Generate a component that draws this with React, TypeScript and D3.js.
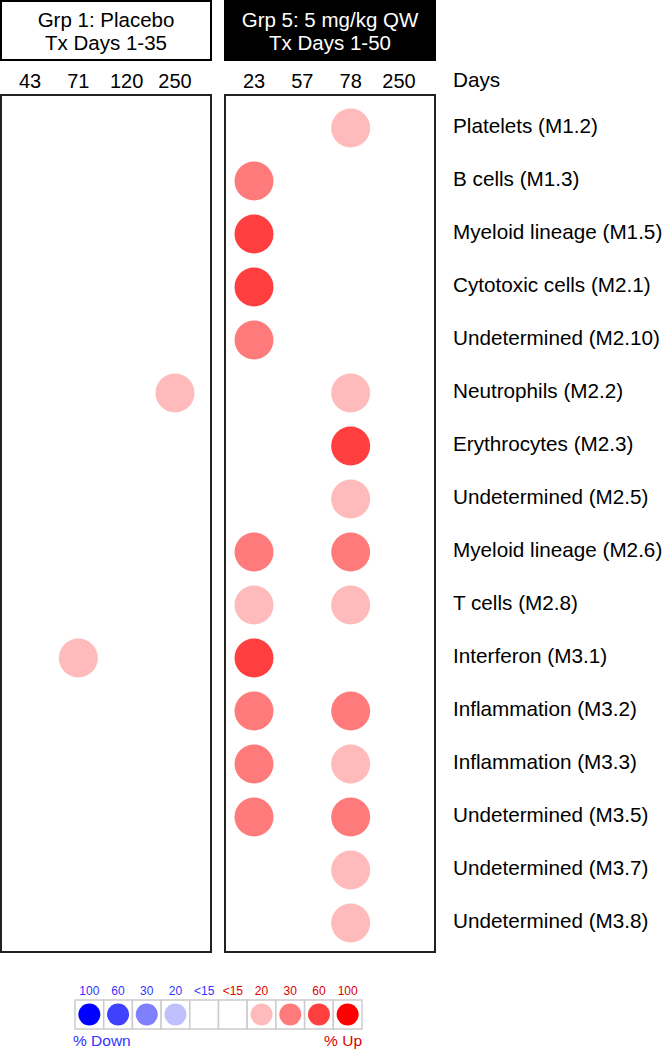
import React, { useEffect, useRef } from 'react';
import * as d3 from 'd3';

const modules = [
  'Platelets (M1.2)', 'B cells (M1.3)', 'Myeloid lineage (M1.5)', 'Cytotoxic cells (M2.1)',
  'Undetermined (M2.10)', 'Neutrophils (M2.2)', 'Erythrocytes (M2.3)', 'Undetermined (M2.5)',
  'Myeloid lineage (M2.6)', 'T cells (M2.8)', 'Interferon (M3.1)', 'Inflammation (M3.2)',
  'Inflammation (M3.3)', 'Undetermined (M3.5)', 'Undetermined (M3.7)', 'Undetermined (M3.8)',
];

const placeboDays = ['43', '71', '120', '250'];
const treatedDays = ['23', '57', '78', '250'];

// % up per module, one value per day column (0 = below threshold)
const placeboValues = [
  [0, 0, 0, 0], [0, 0, 0, 0], [0, 0, 0, 0], [0, 0, 0, 0],
  [0, 0, 0, 0], [0, 0, 0, 20], [0, 0, 0, 0], [0, 0, 0, 0],
  [0, 0, 0, 0], [0, 0, 0, 0], [0, 20, 0, 0], [0, 0, 0, 0],
  [0, 0, 0, 0], [0, 0, 0, 0], [0, 0, 0, 0], [0, 0, 0, 0],
];
const treatedValues = [
  [0, 0, 20, 0], [30, 0, 0, 0], [60, 0, 0, 0], [60, 0, 0, 0],
  [30, 0, 0, 0], [0, 0, 20, 0], [0, 0, 60, 0], [0, 0, 20, 0],
  [30, 0, 30, 0], [20, 0, 20, 0], [60, 0, 0, 0], [30, 0, 30, 0],
  [30, 0, 20, 0], [30, 0, 30, 0], [0, 0, 20, 0], [0, 0, 20, 0],
];

const legendLabels = ['100', '60', '30', '20', '<15', '<15', '20', '30', '60', '100'];
const legendSigns = [-1, -1, -1, -1, -1, 1, 1, 1, 1, 1];
const legendValues = [100, 60, 30, 20, 0, 0, 20, 30, 60, 100];

const upColor = d3.scaleThreshold<number, string>()
  .domain([15, 25, 45, 80])
  .range(['none', '#ffbbbb', '#ff7b7b', '#ff3f3f', '#ff0000']);
const downColor = d3.scaleThreshold<number, string>()
  .domain([15, 25, 45, 80])
  .range(['none', '#c0c0ff', '#8080ff', '#4040ff', '#0000ff']);

const font = '"Liberation Sans", Arial, sans-serif';

const App = () => {
  const ref = useRef<SVGSVGElement>(null);

  useEffect(() => {
    const svg = d3.select(ref.current);
    svg.selectAll('*').remove();

    const top = 95;
    const bottom = 952;
    const panelW = 210;
    const panels = [
      { x0: 1, title: ['Grp 1: Placebo', 'Tx Days 1-35'], dark: false, days: placeboDays, values: placeboValues },
      { x0: 225, title: ['Grp 5: 5 mg/kg QW', 'Tx Days 1-50'], dark: true, days: treatedDays, values: treatedValues },
    ];

    const y = d3.scalePoint<string>().domain(modules).range([128, 923]);

    panels.forEach(p => {
      const g = svg.append('g').attr('transform', `translate(${p.x0},0)`);
      const x = d3.scalePoint<string>().domain(p.days.map((d, i) => `${i}`)).range([29, 174]);

      // header box
      g.append('rect')
        .attr('x', 0).attr('y', 1).attr('width', panelW).attr('height', 59)
        .attr('fill', p.dark ? '#000' : '#fff')
        .attr('stroke', '#000').attr('stroke-width', 2);
      g.selectAll('text.title')
        .data(p.title)
        .enter()
        .append('text')
        .attr('x', panelW / 2)
        .attr('y', (d, i) => 27 + i * 23)
        .attr('text-anchor', 'middle')
        .attr('font-size', 20.5)
        .attr('fill', p.dark ? '#fff' : '#000')
        .text(d => d);

      // day labels
      g.selectAll('text.day')
        .data(p.days)
        .enter()
        .append('text')
        .attr('x', (d, i) => x(`${i}`)!)
        .attr('y', 88)
        .attr('text-anchor', 'middle')
        .attr('font-size', 20)
        .text(d => d);

      // panel frame
      g.append('rect')
        .attr('x', 0).attr('y', top).attr('width', panelW).attr('height', bottom - top)
        .attr('fill', 'none').attr('stroke', '#222').attr('stroke-width', 2);

      const cells = p.values.flatMap((row, r) => row.map((v, c) => ({ r, c, v }))).filter(d => d.v >= 15);
      g.selectAll('circle')
        .data(cells)
        .enter()
        .append('circle')
        .attr('cx', d => x(`${d.c}`)!)
        .attr('cy', d => y(modules[d.r])!)
        .attr('r', 19.5)
        .attr('fill', d => upColor(d.v));
    });

    // right-hand labels
    svg.append('text')
      .attr('x', 453).attr('y', 87)
      .attr('font-size', 20.7)
      .text('Days');
    svg.selectAll('text.module')
      .data(modules)
      .enter()
      .append('text')
      .attr('x', 453)
      .attr('y', d => y(d)! + 5)
      .attr('font-size', 20.7)
      .text(d => d);

    // legend
    const lx = d3.scaleBand<number>().domain(d3.range(10)).range([75, 362]);
    const lg = svg.append('g');
    lg.selectAll('rect')
      .data(legendValues)
      .enter()
      .append('rect')
      .attr('x', (d, i) => lx(i)!)
      .attr('y', 1000)
      .attr('width', lx.bandwidth())
      .attr('height', 29)
      .attr('fill', '#fff')
      .attr('stroke', '#cccccc')
      .attr('stroke-width', 1.5);
    lg.selectAll('circle')
      .data(legendValues)
      .enter()
      .append('circle')
      .attr('cx', (d, i) => lx(i)! + lx.bandwidth() / 2)
      .attr('cy', 1014.5)
      .attr('r', 11)
      .attr('fill', (d, i) => (legendSigns[i] < 0 ? downColor(d) : upColor(d)));
    lg.selectAll('text.lab')
      .data(legendLabels)
      .enter()
      .append('text')
      .attr('x', (d, i) => lx(i)! + lx.bandwidth() / 2)
      .attr('y', 995)
      .attr('text-anchor', 'middle')
      .attr('font-size', 12)
      .attr('fill', (d, i) => (legendSigns[i] < 0 ? '#3333ff' : '#dd0000'))
      .text(d => d);
    lg.append('text')
      .attr('x', 73).attr('y', 1046)
      .attr('font-size', 15.5)
      .attr('fill', '#3333ff')
      .text('% Down');
    lg.append('text')
      .attr('x', 362).attr('y', 1046)
      .attr('text-anchor', 'end')
      .attr('font-size', 15.5)
      .attr('fill', '#dd0000')
      .text('% Up');
  }, []);

  return (
    <svg
      ref={ref}
      width={665}
      height={1050}
      style={{ position: 'absolute', left: 0, top: 0, fontFamily: font }}
    />
  );
};

export default App;
